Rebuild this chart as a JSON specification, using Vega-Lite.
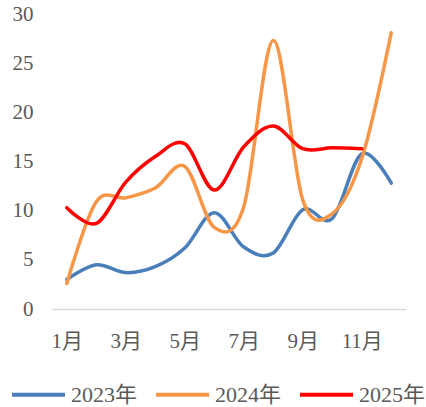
{
  "$schema": "https://vega.github.io/schema/vega-lite/v6.json",
  "width": 354,
  "height": 295,
  "autosize": {"type": "none"},
  "padding": {"left": 52, "top": 14, "right": 20, "bottom": 98},
  "background": "white",
  "config": {
    "view": {"stroke": null},
    "font": "'Liberation Serif', 'Noto Sans CJK SC', serif",
    "axis": {"labelFont": "'Liberation Serif', 'Noto Sans CJK SC', serif", "labelColor": "#595959"},
    "legend": {"labelFont": "'Liberation Serif', 'Noto Sans CJK SC', serif", "labelColor": "#595959"}
  },
  "data": {
    "values": [
      {"month": 1, "series": "2023年", "value": 3.0},
      {"month": 2, "series": "2023年", "value": 4.5},
      {"month": 3, "series": "2023年", "value": 3.7},
      {"month": 4, "series": "2023年", "value": 4.3},
      {"month": 5, "series": "2023年", "value": 6.2},
      {"month": 6, "series": "2023年", "value": 9.8},
      {"month": 7, "series": "2023年", "value": 6.3},
      {"month": 8, "series": "2023年", "value": 5.7},
      {"month": 9, "series": "2023年", "value": 10.1},
      {"month": 10, "series": "2023年", "value": 9.2},
      {"month": 11, "series": "2023年", "value": 15.8},
      {"month": 12, "series": "2023年", "value": 12.8},
      {"month": 1, "series": "2024年", "value": 2.6},
      {"month": 2, "series": "2024年", "value": 10.9},
      {"month": 3, "series": "2024年", "value": 11.3},
      {"month": 4, "series": "2024年", "value": 12.3},
      {"month": 5, "series": "2024年", "value": 14.5},
      {"month": 6, "series": "2024年", "value": 8.3},
      {"month": 7, "series": "2024年", "value": 10.4},
      {"month": 8, "series": "2024年", "value": 27.3},
      {"month": 9, "series": "2024年", "value": 11.1},
      {"month": 10, "series": "2024年", "value": 9.7},
      {"month": 11, "series": "2024年", "value": 15.3},
      {"month": 12, "series": "2024年", "value": 28.1},
      {"month": 1, "series": "2025年", "value": 10.3},
      {"month": 2, "series": "2025年", "value": 8.7},
      {"month": 3, "series": "2025年", "value": 12.9},
      {"month": 4, "series": "2025年", "value": 15.5},
      {"month": 5, "series": "2025年", "value": 16.8},
      {"month": 6, "series": "2025年", "value": 12.1},
      {"month": 7, "series": "2025年", "value": 16.5},
      {"month": 8, "series": "2025年", "value": 18.6},
      {"month": 9, "series": "2025年", "value": 16.3},
      {"month": 10, "series": "2025年", "value": 16.4},
      {"month": 11, "series": "2025年", "value": 16.3}
    ]
  },
  "mark": {"type": "line", "interpolate": "cardinal", "strokeWidth": 3.5, "strokeCap": "round"},
  "encoding": {
    "x": {
      "field": "month",
      "type": "ordinal",
      "scale": {"type": "point", "padding": 0.5},
      "axis": {
        "title": null,
        "labelAngle": 0,
        "values": [1, 3, 5, 7, 9, 11],
        "labelExpr": "datum.value + '月'",
        "ticks": false,
        "domainColor": "#d9d9d9",
        "domainWidth": 1.5,
        "labelFontSize": 21,
        "labelPadding": 21,
        "grid": false
      }
    },
    "y": {
      "field": "value",
      "type": "quantitative",
      "scale": {"domain": [0, 30], "nice": false, "zero": true},
      "axis": {
        "title": null,
        "values": [0, 5, 10, 15, 20, 25, 30],
        "domain": false,
        "ticks": false,
        "grid": false,
        "labelFontSize": 21,
        "labelPadding": 19
      }
    },
    "color": {
      "field": "series",
      "type": "nominal",
      "scale": {"domain": ["2023年", "2024年", "2025年"], "range": ["#4a7ebb", "#f79646", "#ff0000"]},
      "legend": {
        "title": null,
        "orient": "none",
        "direction": "horizontal",
        "legendX": -42,
        "legendY": 352,
        "symbolType": "stroke",
        "symbolSize": 2809,
        "symbolStrokeWidth": 4,
        "labelFontSize": 22,
        "labelOffset": 4,
        "columnPadding": 10,
        "padding": 0
      }
    }
  }
}
